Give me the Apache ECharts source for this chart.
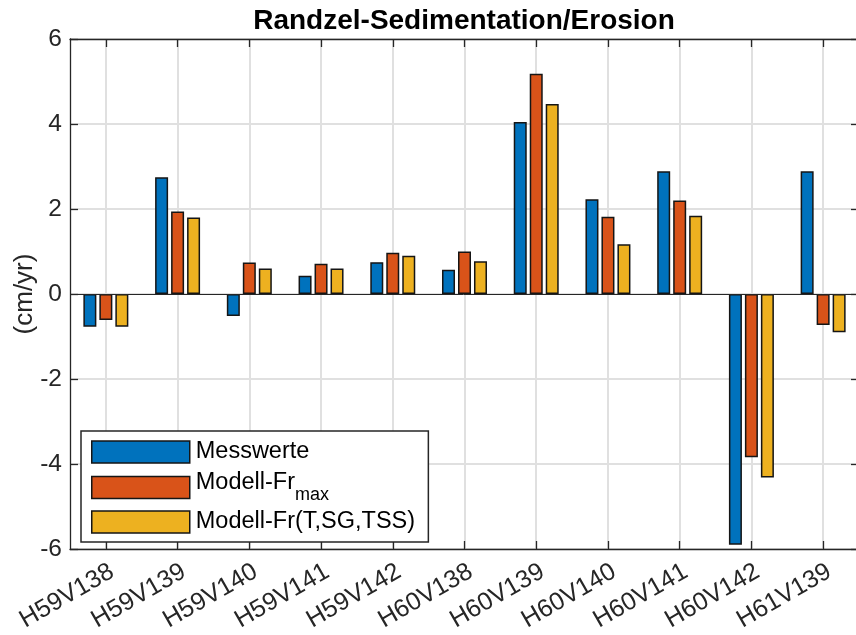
<!DOCTYPE html>
<html>
<head>
<meta charset="utf-8">
<script src="https://cdn.jsdelivr.net/npm/echarts@6/dist/echarts.min.js"></script>
<style>
  html, body { margin: 0; padding: 0; background: #fff; }
  #chart { width: 856px; height: 635px; }
</style>
</head>
<body>
<div id="chart"></div>
<script>
// Sampling points along the bank
const categories = ['H59V138', 'H59V139', 'H59V140', 'H59V141', 'H59V142', 'H60V138',
                    'H60V139', 'H60V140', 'H60V141', 'H60V142', 'H61V139'];

// Sedimentation (+) / erosion (-) rates in cm/yr
const messwerte   = [-0.77, 2.75, -0.52, 0.43, 0.75, 0.57, 4.05, 2.23, 2.89, -5.90, 2.89];
const modellFrMax = [-0.61, 1.94, 0.74, 0.71, 0.97, 1.00, 5.18, 1.82, 2.20, -3.84, -0.73];
const modellFrTSG = [-0.77, 1.80, 0.60, 0.60, 0.90, 0.77, 4.47, 1.17, 1.84, -4.32, -0.90];

const seriesNames = ['Messwerte', 'Modell-Fr_max', 'Modell-Fr(T,SG,TSS)'];
const seriesColors = ['#0072BD', '#D95319', '#EDB120'];

const yMin = -6, yMax = 6, yStep = 2;

const FONT = '"Liberation Sans", Arial, Helvetica, sans-serif';
const AXIS_COLOR = '#262626';
const GRID_COLOR = '#e0e0e0';
const EDGE_COLOR = '#151515';
const LEGEND_FONT = 23.5;

const chart = echarts.init(document.getElementById('chart'), null, { renderer: 'canvas' });

function barSeries(name, data, color) {
  return {
    name: name,
    type: 'bar',
    data: data,
    barWidth: 13,
    barGap: '23%',
    xAxisIndex: 0,
    yAxisIndex: 0,
    itemStyle: { color: color, borderColor: EDGE_COLOR, borderWidth: 1.5 },
    emphasis: { disabled: true }
  };
}

const series = [
  barSeries(seriesNames[0], messwerte, seriesColors[0]),
  barSeries(seriesNames[1], modellFrMax, seriesColors[1]),
  barSeries(seriesNames[2], modellFrTSG, seriesColors[2])
];
// baseline at zero
series[0].markLine = {
  silent: true,
  symbol: 'none',
  label: { show: false },
  lineStyle: { color: AXIS_COLOR, width: 1, type: 'solid' },
  data: [{ yAxis: 0 }]
};

// One legend entry per row; the first one also carries the framed white box.
function legendRow(name, top, extra) {
  return Object.assign({
    orient: 'vertical',
    left: 91,
    top: top,
    data: [name],
    icon: 'rect',
    itemWidth: 98,
    itemHeight: 22,
    padding: 0,
    selectedMode: false,
    z: 5,
    itemStyle: { borderColor: EDGE_COLOR, borderWidth: 1.5 },
    formatter: function (n) {
      if (n === 'Modell-Fr_max') return '{a|Modell-Fr}{sub|max}';
      return n;
    },
    textStyle: {
      fontFamily: FONT,
      fontSize: LEGEND_FONT,
      lineHeight: 22,
      color: '#000',
      padding: [0, 0, 0, 1],
      rich: {
        a: { fontFamily: FONT, fontSize: LEGEND_FONT, color: '#000', lineHeight: 22, height: 12, padding: [0, 0, 10, 0], verticalAlign: 'top' },
        sub: { fontFamily: FONT, fontSize: 18, color: '#000', lineHeight: 22, height: 7.2, padding: [14.8, 0, 0, 0], verticalAlign: 'top' }
      }
    }
  }, extra || {});
}

const option = {
  backgroundColor: '#fff',
  animation: false,
  title: {
    text: 'Randzel-Sedimentation/Erosion',
    left: 464,
    top: 7,
    padding: 0,
    textAlign: 'center',
    textStyle: { fontFamily: FONT, fontSize: 28, fontWeight: 'bold', color: '#000' }
  },
  grid: { left: 70, right: -3, top: 39, bottom: 86, containLabel: false, outerBoundsMode: 'none' },
  legend: [
    legendRow(seriesNames[0], 431, {
      left: 81,
      padding: [9, 119, 78, 10],
      backgroundColor: '#fff',
      borderColor: AXIS_COLOR,
      borderWidth: 1.5,
      borderRadius: 0,
      z: 4
    }),
    legendRow(seriesNames[1], 470.5),
    legendRow(seriesNames[2], 510)
  ],
  xAxis: [
    {
      type: 'category',
      data: categories,
      position: 'bottom',
      axisLine: { show: true, onZero: false, lineStyle: { color: AXIS_COLOR, width: 1.3 } },
      axisTick: { show: true, inside: true, alignWithLabel: true, length: 8, lineStyle: { color: AXIS_COLOR, width: 1.3 } },
      axisLabel: { rotate: 30, margin: 10, verticalAlign: 'top', fontFamily: FONT, fontSize: 25, color: AXIS_COLOR },
      splitLine: { show: true, alignWithLabel: true, lineStyle: { color: GRID_COLOR, width: 2 } }
    },
    {
      type: 'category',
      data: categories,
      position: 'top',
      axisLine: { show: true, onZero: false, lineStyle: { color: AXIS_COLOR, width: 1.3 } },
      axisTick: { show: true, inside: true, alignWithLabel: true, length: 8, lineStyle: { color: AXIS_COLOR, width: 1.3 } },
      axisLabel: { show: false },
      splitLine: { show: false }
    }
  ],
  yAxis: [
    {
      type: 'value',
      min: yMin, max: yMax, interval: yStep,
      position: 'left',
      name: '(cm/yr)',
      nameLocation: 'middle',
      nameGap: 32,
      nameMoveOverlap: false,
      nameTextStyle: { fontFamily: FONT, fontSize: 26, color: AXIS_COLOR },
      axisLine: { show: true, onZero: false, lineStyle: { color: AXIS_COLOR, width: 1.3 } },
      axisTick: { show: true, inside: true, length: 8, lineStyle: { color: AXIS_COLOR, width: 1.3 } },
      axisLabel: { margin: 8, fontFamily: FONT, fontSize: 24.5, color: AXIS_COLOR },
      splitLine: { show: true, lineStyle: { color: GRID_COLOR, width: 2 } }
    },
    {
      type: 'value',
      min: yMin, max: yMax, interval: yStep,
      position: 'right',
      axisLine: { show: true, onZero: false, lineStyle: { color: AXIS_COLOR, width: 1.3 } },
      axisTick: { show: true, inside: true, length: 8, lineStyle: { color: AXIS_COLOR, width: 1.3 } },
      axisLabel: { show: false },
      splitLine: { show: false }
    }
  ],
  series: series
};

chart.setOption(option);
</script>
</body>
</html>
